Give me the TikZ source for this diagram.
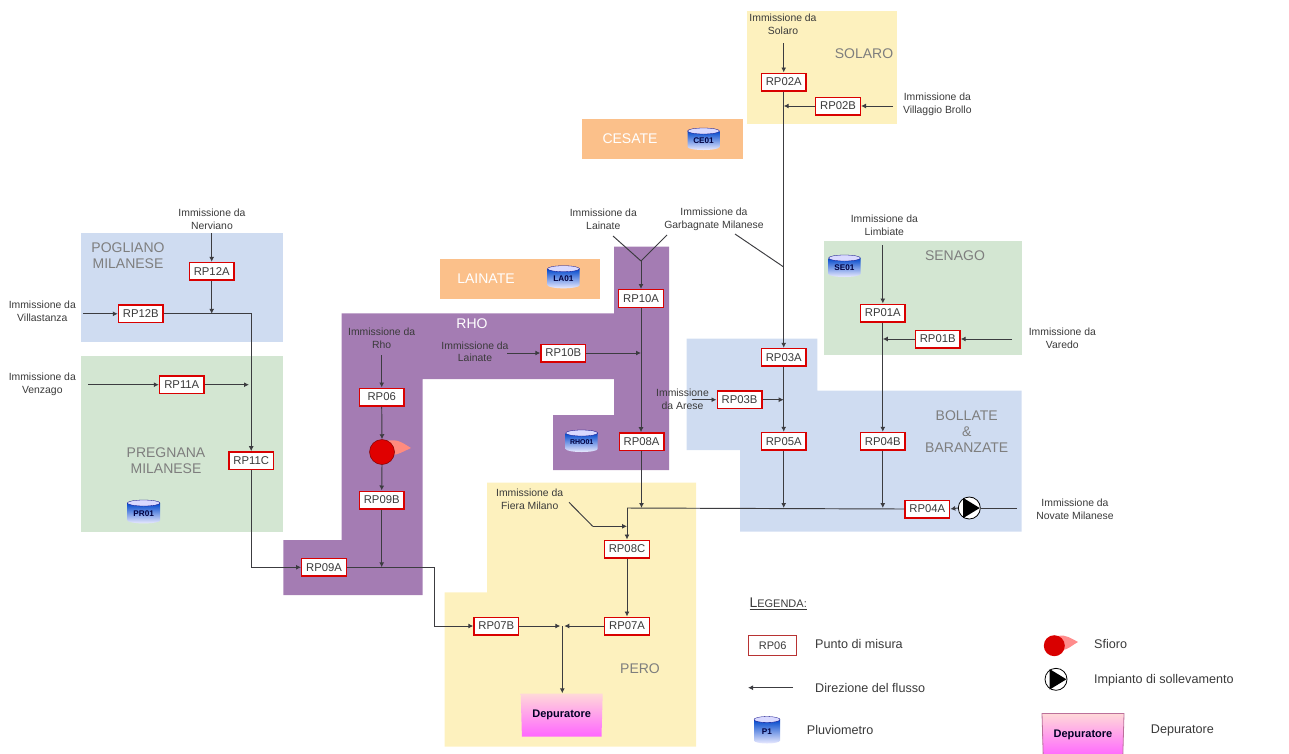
\documentclass[tikz,border=0pt]{standalone}
\usepackage{fontspec}
\setmainfont{Liberation Sans}
\usetikzlibrary{arrows.meta,shapes.geometric,calc}
\definecolor{zblue}{HTML}{CFDCF1}
\definecolor{zgreen}{HTML}{D3E6D2}
\definecolor{zyellow}{HTML}{FDF1BE}
\definecolor{zorange}{HTML}{FBC08A}
\definecolor{zpurple}{HTML}{A47CB3}
\definecolor{wirec}{HTML}{3C3C40}
\definecolor{textc}{HTML}{3A3A3A}
\definecolor{regionc}{HTML}{7E7E7E}
\tikzset{
  rpbox/.style={draw=red!85!black,line width=1.4pt,fill=white,minimum width=44.6pt,minimum height=17.6pt,inner sep=0pt,
    text=textc,font=\fontsize{11.3}{13}\selectfont},
  wire/.style={draw=wirec,line width=0.95pt},
  flow/.style={wire,-{Latex[length=5pt,width=5pt]}},
  inlabel/.style={align=center,text=textc,inner sep=0pt,font=\fontsize{10.4}{12.8}\selectfont},
  region/.style={text=regionc,align=center,inner sep=0pt,font=\fontsize{14}{16}\selectfont},
  wregion/.style={text=white,align=center,inner sep=0pt,font=\fontsize{14}{16}\selectfont},
  leglabel/.style={anchor=west,inner sep=0pt,text=textc,font=\fontsize{12.6}{15}\selectfont},
  gaugetext/.style={inner sep=0pt,text=black!75!blue,font=\bfseries\fontsize{8.2}{10}\selectfont},
  deptrap/.style={trapezium,shape border rotate=180,trapezium stretches body,trapezium angle=83,
    minimum width=82pt,minimum height=43pt,inner sep=0pt,top color=pink!60!white,bottom color=magenta!60!white,
    text=black!85!blue,font=\bfseries\fontsize{11}{13}\selectfont},
  sfio/.style={circle,draw=red!50!black,line width=0.5pt,fill=red!88!black,minimum size=25pt,inner sep=0pt},
  pumpn/.style={circle,draw=black,line width=0.8pt,fill=white,minimum size=22pt,inner sep=0pt},
}
% gauge: name, x, y, half-width, half-height, label
\newcommand{\gauge}[6]{%
  \shade[top color=blue!65!cyan!80!black,bottom color=blue!8!white]
    (#2-#4,#3-#5+3) -- (#2-#4,#3+#5-3) arc[start angle=180,end angle=360,x radius=#4 pt,y radius=3pt,y=1pt]
    -- (#2+#4,#3-#5+3) -- cycle;
  \fill[blue!15!white,draw=blue!50!black,line width=0.3pt] (#2,#3-#5+3) ellipse[x radius=#4 pt,y radius=3pt];
  \node[gaugetext] (#1) at (#2,#3+1.5) {#6};
}
\begin{document}
\begin{tikzpicture}[x=1pt,y=-1pt]
\useasboundingbox (0,0) rectangle (1289,753);
% regions
\fill[zblue] (81,232.7) rectangle (283.3,342.3);
\fill[zgreen] (81,355.7) rectangle (283.3,531.7);
\fill[zyellow] (746.7,10.7) rectangle (897.3,124.3);
\fill[zorange] (582.3,119) rectangle (742.7,158.7);
\fill[zorange] (440,259.3) rectangle (600,299);
\fill[zgreen] (824,241.3) rectangle (1021.7,355);
\fill[zblue] (686.7,338.7) -- (817.3,338.7) -- (817.3,390.7) -- (1021.7,390.7) -- (1021.7,531.7) -- (740,531.7) -- (740,450) -- (686.7,450) -- cycle;
\fill[zyellow] (487,482.7) -- (696,482.7) -- (696,746.7) -- (444.7,746.7) -- (444.7,592.3) -- (487,592.3) -- cycle;
\fill[zpurple] (341.7,313.3) -- (614,313.3) -- (614,246.7) -- (669,246.7) -- (669,470) -- (553,470) -- (553,415) -- (614,415) -- (614,379) -- (422.7,379) -- (422.7,595) -- (283.3,595) -- (283.3,540) -- (341.7,540) -- cycle;
% region labels
\node[region] (lpog) at (128,256) {POGLIANO\\MILANESE};
\node[region] (lpre) at (166,460.5) {PREGNANA\\MILANESE};
\node[region] (lsol) at (864,54) {SOLARO};
\node[wregion] (lces) at (630,138.3) {CESATE};
\node[wregion] (llai) at (486,279) {LAINATE};
\node[region] (lsen) at (955,256) {SENAGO};
\node[wregion] (lrho) at (472,324) {RHO};
\node[region] (lbol) at (966.7,432) {BOLLATE\\\&\\BARANZATE};
\node[region] (lper) at (640,669) {PERO};
% gauges
\gauge{ce}{703.5}{139}{16}{11}{CE01}
\gauge{la}{563.5}{277}{16}{11.3}{LA01}
\gauge{se}{844.5}{266}{16}{11}{SE01}
\gauge{rh}{581.7}{441}{16}{11}{\fontsize{7}{9}\selectfont RHO01}
\gauge{pr}{143.7}{511.7}{16.3}{11.7}{PR01}
\gauge{pl}{767}{730}{13}{13.5}{P1}
% measuring points
\foreach \nm/\px/\py/\tx in {
  rp02a/783.7/82/RP02A, rp02b/838/106/RP02B, rp10a/641/298.5/RP10A, rp10b/563.3/353/RP10B,
  rp06/381.7/397/RP06, rp09b/381.7/500/RP09B, rp09a/324/567.3/RP09A, rp08a/641.5/441.7/RP08A,
  rp08c/627/549/RP08C, rp07a/627/626/RP07A, rp07b/496.3/626/RP07B, rp03a/783.7/357.3/RP03A,
  rp03b/739.5/399.7/RP03B, rp05a/783.7/441.3/RP05A, rp04b/882.8/441.3/RP04B, rp04a/927.3/509/RP04A,
  rp01b/937.7/339/RP01B, rp01a/882.8/313/RP01A, rp12a/211.7/271.3/RP12A, rp12b/140.8/313.8/RP12B,
  rp11a/181.8/384.7/RP11A, rp11c/251.2/460.7/RP11C}
  {\node[rpbox] (\nm) at (\px,\py) {\tx};}
% symbols
\fill[red!45!white!90!orange] (386,441) .. controls (398,438) and (404,444) .. (411,448) .. controls (404,451) and (398,455) .. (392,455) -- cycle;
\node[sfio] (sf) at (382,452) {};
\node[pumpn] (pump) at (969.3,508) {};
\fill[black] (963,497.8) -- (979.7,508) -- (963,518.2) -- cycle;
\node[deptrap] (dep) at (561.7,715) {Depuratore};
% input labels
\node[inlabel] (isol) at (783,24) {Immissione da\\Solaro};
\node[inlabel] (ivil) at (937.3,104.3) {Immissione da\\Villaggio Brollo};
\node[inlabel] (ilai) at (603.3,219.3) {Immissione da\\Lainate};
\node[inlabel] (igar) at (714,219.3) {Immissione da\\Garbagnate Milanese};
\node[inlabel] (ilim) at (884.3,225.3) {Immissione da\\Limbiate};
\node[inlabel] (ivar) at (1062.3,338.3) {Immissione da\\Varedo};
\node[inlabel] (iner) at (212,219.6) {Immissione da\\Nerviano};
\node[inlabel] (ivll) at (42.3,311.6) {Immissione da\\Villastanza};
\node[inlabel] (iven) at (42.3,384.6) {Immissione da\\Venzago};
\node[inlabel] (irho) at (381.7,338.3) {Immissione da\\Rho};
\node[inlabel] (ila2) at (475,351.8) {Immissione da\\Lainate};
\node[inlabel] (iare) at (682.5,399.5) {Immissione\\da Arese};
\node[inlabel] (ifie) at (529.7,499.5) {Immissione da\\Fiera Milano};
\node[inlabel] (inov) at (1075,509.5) {Immissione da\\Novate Milanese};
% free ends
\coordinate (s-sol) at (783.7,43);
\coordinate (s-vil) at (893,106);
\coordinate (s-gar1) at (735,234);
\coordinate (s-gar2) at (783.7,267);
\coordinate (s-lai) at (613,236);
\coordinate (s-lbg) at (667,235);
\coordinate (s-lj) at (641,261);
\coordinate (s-la2) at (507,353);
\coordinate (s-fie) at (569,502.3);
\coordinate (s-fi2) at (592.7,526.3);
\coordinate (s-are) at (691.7,399.7);
\coordinate (s-lim) at (882.8,245);
\coordinate (s-var) at (1012,339);
\coordinate (s-nov) at (1017,508);
\coordinate (s-ner) at (211.7,233);
\coordinate (s-vll) at (83,313.8);
\coordinate (s-ven) at (88,384.7);
\coordinate (s-rho) at (381.7,355);
\coordinate (bus) at (627,508);
\coordinate (c-j) at (562.3,626);
% connectors
\draw[flow] (s-sol) -- (rp02a.north);
\draw[flow] (rp02a.south) -- (rp03a.north);
\draw[flow] (s-vil) -- (rp02b.east);
\draw[flow] (rp02b.west) -- (rp02b.west -| rp02a);
\draw[wire] (s-gar1) -- (s-gar2);
\draw[wire] (s-lai) -- (s-lj);
\draw[wire] (s-lbg) -- (s-lj);
\draw[flow] (s-lj) -- (rp10a.north);
\draw[flow] (rp10a.south) -- (rp10a.south |- rp08a.north);
\draw[flow] (s-la2) -- (rp10b.west);
\draw[flow] (rp10b.east) -- (rp10b.east -| rp10a);
\draw[flow] (rp08a.south) -- (rp08a.south |- bus);
\draw[wire] (rp04a.west) -- (bus);
\draw[flow] (bus) -- (rp08c.north);
\draw[wire] (s-fie) -- (s-fi2);
\draw[flow] (s-fi2) -- (s-fi2 -| bus);
\draw[flow] (rp08c.south) -- (rp07a.north);
\draw[flow] (rp07a.west) -- ($(c-j)+(2,0)$);
\draw[flow] (rp07b.east) -- ($(c-j)+(-2,0)$);
\draw[flow] (c-j) -- (c-j |- dep.north);
\draw[flow] (s-rho) -- (rp06.north);
\draw[flow] (rp06.south) -- (sf.north);
\draw[flow] (sf.south) -- (rp09b.north);
\draw[flow] (rp09b.south) -- (rp09b.south |- rp09a.east);
\draw[flow] (rp09a.east) -- (434,567.3) -- (434,626) -- (rp07b.west);
\draw[flow] (rp11c.south) -- (rp11c.south |- rp09a.west) -- (rp09a.west);
\draw[flow] (rp12b.east) -- (rp11c.north |- rp12b.east) -- (rp11c.north);
\draw[flow] (rp12a.south) -- (rp12a.south |- rp12b.east);
\draw[flow] (s-ner) -- (rp12a.north);
\draw[flow] (s-vll) -- (rp12b.west);
\draw[flow] (s-ven) -- (rp11a.west);
\draw[flow] (rp11a.east) -- (249,384.7);
\draw[flow] (s-are) -- (rp03b.west);
\draw[flow] (rp03b.east) -- (rp03b.east -| rp03a);
\draw[flow] (rp03a.south) -- (rp05a.north);
\draw[flow] (rp05a.south) -- (rp05a.south |- bus);
\draw[flow] (rp04b.south) -- (rp04b.south |- bus);
\draw[flow] (rp01a.south) -- (rp04b.north);
\draw[flow] (rp01b.west) -- (rp01b.west -| rp01a);
\draw[flow] (s-var) -- (rp01b.east);
\draw[flow] (s-lim) -- (rp01a.north);
\draw[wire] (s-nov) -- (pump.east);
\draw[flow] (pump.west) -- (rp04a.east);
% legend
\node[anchor=west,inner sep=0pt,text=textc] (legt) at (749.3,604) {\underline{\fontsize{14}{16}\selectfont L\fontsize{11}{13}\selectfont EGENDA:}};
\node[draw=red!65!black!80!white,line width=1pt,fill=white,minimum width=48pt,minimum height=20pt,inner sep=0pt,text=textc,font=\fontsize{11}{13}\selectfont] (legrp) at (772.7,645.5) {RP06};
\node[leglabel] (t1) at (815,644) {Punto di misura};
\coordinate (legb) at (793,687.7);
\coordinate (lega) at (748,687.7);
\draw[flow] (legb) -- (lega);
\node[leglabel] (t2) at (815,688) {Direzione del flusso};
\node[leglabel] (t3) at (806.7,730) {Pluviometro};
\fill[red!45!white] (1058,636) .. controls (1066,634) and (1072,639) .. (1078,642) .. controls (1072,645) and (1068,650) .. (1062,650) -- cycle;
\node[sfio,minimum size=21pt,draw=none,fill=red!85!black] (legsf) at (1054.3,645.7) {};
\node[leglabel] (t4) at (1094,644) {Sfioro};
\node[pumpn] (legp) at (1056,679.3) {};
\fill[black] (1049.7,669.1) -- (1066.4,679.3) -- (1049.7,689.5) -- cycle;
\node[leglabel] (t5) at (1094,680) {Impianto di sollevamento};
\node[deptrap,draw=magenta!60!black!70!white,line width=0.8pt] (legd) at (1083,735) {Depuratore};
\node[leglabel] (t6) at (1150.7,730) {Depuratore};
\end{tikzpicture}
\end{document}
